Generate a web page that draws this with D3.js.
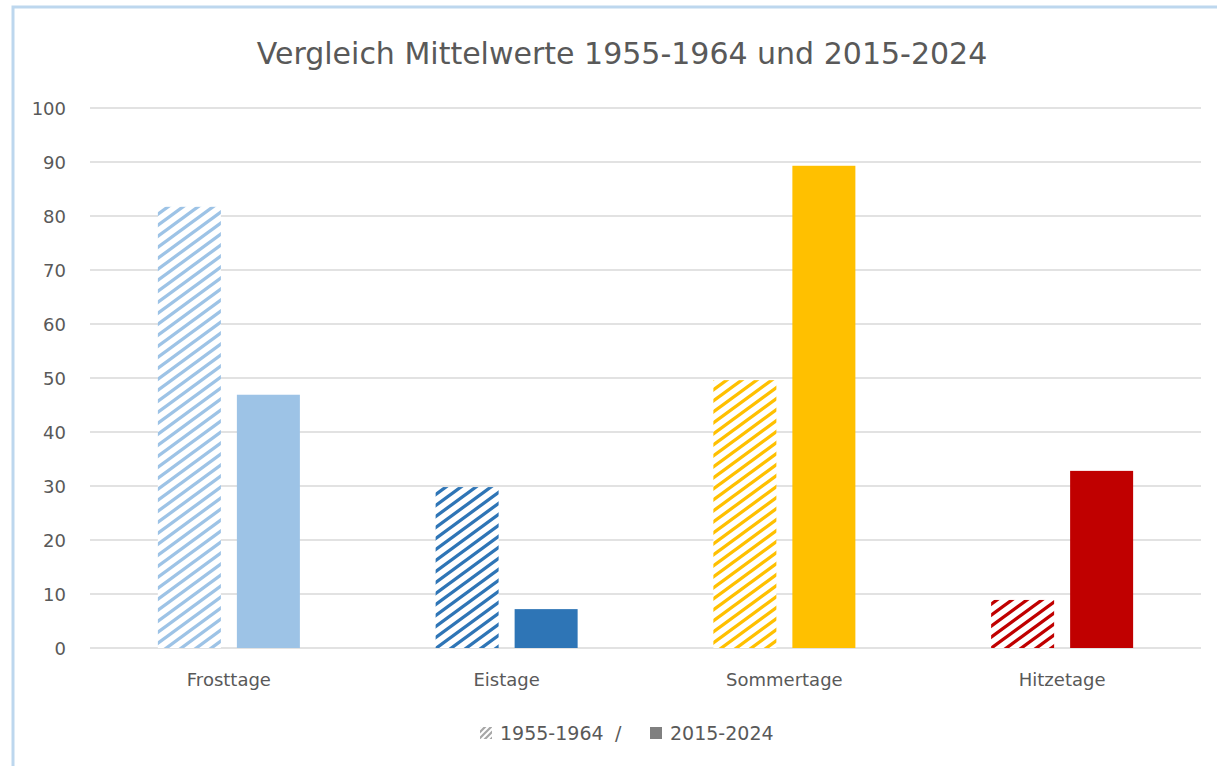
<!DOCTYPE html>
<html><head><meta charset="utf-8">
<script src="https://cdn.jsdelivr.net/npm/d3@7"></script>
<style>html,body{margin:0;padding:0;background:#fff;}svg{display:block;}</style>
</head><body>
<script>
const categories = ["Frosttage", "Eistage", "Sommertage", "Hitzetage"];
const series = ["1955-1964", "2015-2024"];
const values1955 = [81.7, 29.8, 49.6, 8.9];
const values2015 = [46.9, 7.2, 89.3, 32.8];
const colors = ["#9DC3E6", "#2E75B6", "#FFC000", "#C00000"];
const yTicks = [0,10,20,30,40,50,60,70,80,90,100];
const title = "Vergleich Mittelwerte 1955-1964 und 2015-2024";

const W = 1217, H = 766;
const font = "'DejaVu Sans', Verdana, sans-serif";
const svg = d3.select("body").append("svg").attr("width", W).attr("height", H);
const defs = svg.append("defs");

// border
svg.append("rect").attr("x",13).attr("y",7).attr("width",W+20).attr("height",H+20)
  .attr("fill","#fff").attr("stroke","#BDD7EE").attr("stroke-width",3);

const pw = 15, ph = 11;
const hatchPath = [-1,0,1].map(k => `M-15,${22+11*k} L30,${-11+11*k}`).join(" ");
categories.forEach((c,i)=>{
  const p = defs.append("pattern").attr("id","hatch"+i).attr("patternUnits","userSpaceOnUse")
    .attr("width",pw).attr("height",ph);
  p.append("rect").attr("width",pw).attr("height",ph).attr("fill","#fff");
  p.append("path").attr("d",hatchPath)
    .attr("stroke",colors[i]).attr("stroke-width",3.3);
});
const lp = defs.append("pattern").attr("id","hatchL").attr("patternUnits","userSpaceOnUse").attr("width",6).attr("height",6);
lp.append("rect").attr("width",6).attr("height",6).attr("fill","#fff");
lp.append("path").attr("d","M-2,2 L2,-2 M0,6 L6,0 M4,8 L8,4").attr("stroke","#A6A6A6").attr("stroke-width",2.2);

const x0 = d3.scaleBand().domain(categories).range([90, 1201]).paddingInner(0).paddingOuter(0);
const y = d3.scaleLinear().domain([0,100]).range([648,108]);

svg.append("text").attr("x", 622).attr("y", 64).attr("text-anchor","middle")
  .attr("font-family",font).attr("font-size",30).attr("fill","#595959").text(title);

// grid
svg.append("g").selectAll("line").data(yTicks).join("line")
  .attr("x1",90).attr("x2",1201).attr("y1",d=>y(d)).attr("y2",d=>y(d))
  .attr("stroke","#D9D9D9").attr("stroke-width",1.5);

// y labels
svg.append("g").selectAll("text").data(yTicks).join("text")
  .attr("x",66).attr("y",d=>y(d)+6.5).attr("text-anchor","end")
  .attr("font-family",font).attr("font-size",18).attr("fill","#595959").text(d=>d);

const bw = 63, gap = 16;
const x1 = d3.scaleBand().domain(series).range([0, bw*2+gap]).paddingInner(gap/(bw+gap)).paddingOuter(0);
const g = svg.append("g");
categories.forEach((c,i)=>{
  const cx = x0(c) + x0.bandwidth()/2 - (bw*2+gap)/2;
  g.append("rect").attr("x",cx + x1(series[0])).attr("width",x1.bandwidth())
    .attr("y",y(values1955[i])).attr("height",y(0)-y(values1955[i])).attr("fill","url(#hatch"+i+")");
  g.append("rect").attr("x",cx + x1(series[1])).attr("width",x1.bandwidth())
    .attr("y",y(values2015[i])).attr("height",y(0)-y(values2015[i])).attr("fill",colors[i]);
});

// x labels
svg.append("g").selectAll("text").data(categories).join("text")
  .attr("x",d=>x0(d)+x0.bandwidth()/2).attr("y",686).attr("text-anchor","middle")
  .attr("font-family",font).attr("font-size",18).attr("fill","#595959").text(d=>d);

// legend
const lg = svg.append("g");
lg.append("rect").attr("x",480).attr("y",727).attr("width",12).attr("height",12).attr("fill","url(#hatchL)");
lg.append("text").attr("x",500).attr("y",740).attr("font-family",font).attr("font-size",19).attr("fill","#595959").text(series[0]);
lg.append("text").attr("x",615).attr("y",740).attr("font-family",font).attr("font-size",19).attr("fill","#595959").text("/");
lg.append("rect").attr("x",650).attr("y",727).attr("width",12).attr("height",12).attr("fill","#808080");
lg.append("text").attr("x",670).attr("y",740).attr("font-family",font).attr("font-size",19).attr("fill","#595959").text(series[1]);
</script>
</body></html>
